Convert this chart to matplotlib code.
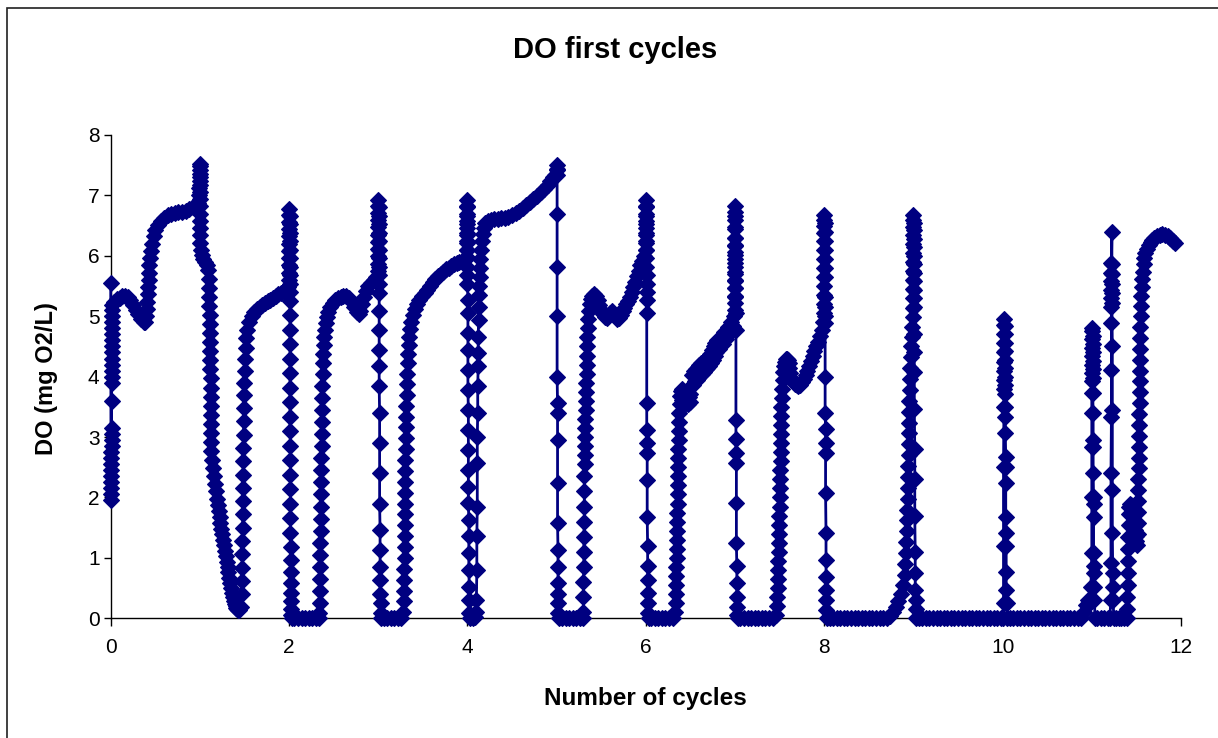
import numpy as np
import matplotlib.pyplot as plt
from matplotlib.patches import Rectangle

# DO probe readings as (cycle number, DO in mg O2/L), one list per cycle
cycle_1 = [
    (0.000, 5.55), (0.004, 1.95), (0.005, 2.05), (0.006, 2.15), (0.006, 2.25), (0.007, 2.35),
    (0.007, 2.45), (0.008, 2.55), (0.008, 2.65), (0.008, 2.75), (0.009, 2.85), (0.009, 2.95),
    (0.009, 3.05), (0.010, 3.15), (0.010, 3.60), (0.010, 3.90), (0.010, 4.00), (0.010, 4.10),
    (0.011, 4.20), (0.011, 4.30), (0.012, 4.40), (0.012, 4.50), (0.013, 4.60), (0.013, 4.70),
    (0.014, 4.80), (0.015, 4.90), (0.016, 5.00), (0.018, 5.10), (0.020, 5.18),
    (0.04, 5.24), (0.07, 5.28), (0.10, 5.31), (0.13, 5.33), (0.16, 5.34), (0.19, 5.32),
    (0.22, 5.27), (0.25, 5.19), (0.28, 5.11), (0.31, 5.03), (0.34, 4.96), (0.37, 4.90),
    (0.39, 4.90), (0.40, 5.00), (0.405, 5.12), (0.41, 5.24), (0.415, 5.36), (0.42, 5.48),
    (0.425, 5.60), (0.43, 5.72), (0.435, 5.84), (0.44, 5.96), (0.45, 6.08), (0.46, 6.20),
    (0.48, 6.32), (0.50, 6.42), (0.53, 6.51), (0.56, 6.58), (0.60, 6.63), (0.64, 6.67),
    (0.68, 6.70), (0.72, 6.71), (0.76, 6.72), (0.80, 6.73), (0.84, 6.75), (0.88, 6.78),
    (0.92, 6.81), (0.95, 6.84), (0.98, 6.88),
]

cycle_2 = [
    (0.99, 7.00), (0.99, 7.12), (1.00, 7.24), (1.00, 7.36), (1.00, 7.48), (1.00, 7.52),
    (1.00, 7.42), (1.00, 7.30), (1.00, 7.18), (1.00, 7.06), (1.00, 6.94), (1.00, 6.82),
    (1.00, 6.70), (1.00, 6.58), (1.00, 6.46), (1.00, 6.34), (1.00, 6.22), (1.01, 6.10),
    (1.02, 6.02), (1.04, 5.95), (1.06, 5.90), (1.08, 5.84), (1.09, 5.76),
    (1.10, 5.62), (1.10, 5.47), (1.105, 5.32), (1.105, 5.17), (1.11, 5.02), (1.11, 4.87),
    (1.11, 4.72), (1.11, 4.57), (1.115, 4.42), (1.115, 4.27), (1.115, 4.12), (1.12, 3.97),
    (1.12, 3.82), (1.12, 3.67), (1.12, 3.52), (1.12, 3.37), (1.125, 3.22), (1.125, 3.07),
    (1.13, 2.92), (1.13, 2.77), (1.14, 2.62), (1.15, 2.48), (1.16, 2.35), (1.17, 2.22),
    (1.18, 2.10), (1.19, 1.98), (1.20, 1.87), (1.21, 1.77), (1.22, 1.67), (1.23, 1.58),
    (1.24, 1.48), (1.25, 1.39), (1.26, 1.30), (1.27, 1.21), (1.28, 1.12), (1.29, 1.03),
    (1.30, 0.94), (1.31, 0.85), (1.32, 0.76), (1.33, 0.67), (1.34, 0.58), (1.35, 0.50),
    (1.36, 0.42), (1.37, 0.35), (1.38, 0.29), (1.39, 0.24), (1.40, 0.20), (1.41, 0.17),
    (1.42, 0.15), (1.43, 0.14), (1.44, 0.13),
    (1.46, 0.18), (1.47, 0.40), (1.47, 0.62), (1.475, 0.84), (1.475, 1.06), (1.475, 1.28),
    (1.48, 1.50), (1.48, 1.72), (1.48, 1.94), (1.48, 2.16), (1.485, 2.38), (1.485, 2.60),
    (1.485, 2.82), (1.49, 3.04), (1.49, 3.26), (1.49, 3.48), (1.495, 3.70), (1.50, 3.90),
    (1.505, 4.10), (1.51, 4.30), (1.515, 4.48), (1.52, 4.64), (1.53, 4.78), (1.55, 4.90),
    (1.58, 5.00), (1.61, 5.07), (1.64, 5.12), (1.67, 5.16), (1.70, 5.19), (1.73, 5.22),
    (1.76, 5.25), (1.79, 5.27), (1.82, 5.30), (1.85, 5.33), (1.88, 5.36), (1.91, 5.39),
    (1.94, 5.42), (1.97, 5.45), (1.99, 5.48),
]

cycle_3 = [
    (2.00, 5.60), (2.00, 5.72), (2.00, 5.84), (2.00, 5.96), (2.00, 6.08), (2.00, 6.20),
    (2.00, 6.32), (2.00, 6.44), (2.00, 6.56), (2.00, 6.68), (2.00, 6.78),
    (2.005, 6.66), (2.005, 6.52), (2.005, 6.38), (2.005, 6.24), (2.005, 6.10), (2.005, 5.96),
    (2.005, 5.82), (2.005, 5.68), (2.005, 5.54), (2.01, 5.40), (2.01, 5.26),
    (2.01, 5.02), (2.01, 4.78), (2.01, 4.54), (2.01, 4.30), (2.01, 4.06), (2.01, 3.82),
    (2.01, 3.58), (2.01, 3.34), (2.01, 3.10), (2.015, 2.86), (2.015, 2.62), (2.015, 2.38),
    (2.015, 2.14), (2.015, 1.90), (2.015, 1.66), (2.015, 1.42), (2.02, 1.18), (2.02, 0.96),
    (2.02, 0.76), (2.02, 0.58), (2.02, 0.42), (2.02, 0.28), (2.02, 0.16), (2.025, 0.06),
    (2.03, 0.00), (2.06, 0.00), (2.10, 0.00), (2.14, 0.00), (2.18, 0.00), (2.22, 0.00),
    (2.26, 0.00), (2.30, 0.00), (2.33, 0.00),
    (2.34, 0.08), (2.345, 0.25), (2.345, 0.45), (2.35, 0.65), (2.35, 0.85), (2.35, 1.05),
    (2.35, 1.25), (2.355, 1.45), (2.355, 1.65), (2.355, 1.85), (2.36, 2.05), (2.36, 2.25),
    (2.36, 2.45), (2.36, 2.65), (2.365, 2.85), (2.365, 3.05), (2.365, 3.25), (2.37, 3.45),
    (2.37, 3.65), (2.37, 3.85), (2.375, 4.05), (2.38, 4.22), (2.385, 4.38), (2.39, 4.52),
    (2.395, 4.65), (2.40, 4.77), (2.41, 4.88), (2.42, 4.98), (2.44, 5.07), (2.46, 5.15),
    (2.49, 5.22), (2.52, 5.27), (2.55, 5.30), (2.58, 5.32), (2.61, 5.33), (2.64, 5.33),
    (2.67, 5.30), (2.70, 5.24), (2.73, 5.15), (2.76, 5.07), (2.78, 5.04), (2.80, 5.08),
    (2.82, 5.20), (2.84, 5.32), (2.86, 5.42), (2.89, 5.50), (2.92, 5.55), (2.95, 5.60),
    (2.98, 5.65),
]

cycle_4 = [
    (3.00, 5.75), (3.00, 5.87), (3.00, 5.99), (3.00, 6.11), (3.00, 6.23), (3.00, 6.35),
    (3.00, 6.47), (3.00, 6.59), (3.00, 6.71), (3.00, 6.83), (3.00, 6.93),
    (3.005, 6.80), (3.005, 6.66), (3.005, 6.52), (3.005, 6.38), (3.005, 6.24), (3.005, 6.10),
    (3.005, 5.96), (3.005, 5.82), (3.005, 5.68), (3.01, 5.54), (3.01, 5.38), (3.01, 5.08),
    (3.01, 4.77), (3.01, 4.44), (3.01, 4.17), (3.01, 3.84), (3.015, 3.40), (3.015, 2.90),
    (3.015, 2.40), (3.015, 1.90), (3.02, 1.46), (3.02, 1.13), (3.02, 0.85), (3.02, 0.63),
    (3.02, 0.41), (3.025, 0.25), (3.025, 0.08), (3.03, 0.00),
    (3.06, 0.00), (3.10, 0.00), (3.14, 0.00), (3.18, 0.00), (3.22, 0.00), (3.26, 0.00),
    (3.28, 0.10), (3.285, 0.28), (3.29, 0.46), (3.29, 0.64), (3.29, 0.82), (3.295, 1.00),
    (3.295, 1.18), (3.295, 1.36), (3.30, 1.54), (3.30, 1.72), (3.30, 1.90), (3.30, 2.08),
    (3.305, 2.26), (3.305, 2.44), (3.305, 2.62), (3.31, 2.80), (3.31, 2.98), (3.31, 3.16),
    (3.315, 3.34), (3.315, 3.52), (3.32, 3.70), (3.32, 3.88), (3.325, 4.05), (3.33, 4.22),
    (3.335, 4.38), (3.34, 4.52), (3.35, 4.66), (3.36, 4.79), (3.37, 4.91), (3.39, 5.02),
    (3.41, 5.12), (3.43, 5.20), (3.46, 5.27), (3.49, 5.33), (3.52, 5.38), (3.55, 5.43),
    (3.58, 5.50), (3.61, 5.57), (3.64, 5.62), (3.67, 5.66), (3.70, 5.70), (3.73, 5.74),
    (3.76, 5.78), (3.79, 5.80), (3.82, 5.83), (3.85, 5.86), (3.88, 5.88), (3.91, 5.89),
    (3.94, 5.92), (3.97, 5.95), (3.99, 5.98),
]

cycle_5 = [
    (3.995, 6.10), (3.995, 6.22), (3.995, 6.34), (3.995, 6.46), (3.995, 6.58), (3.995, 6.70),
    (3.995, 6.82), (3.995, 6.93),
    (4.00, 6.80), (4.00, 6.66), (4.00, 6.52), (4.00, 6.38), (4.00, 6.24), (4.00, 6.10),
    (4.00, 5.96), (4.00, 5.82), (4.00, 5.68), (4.00, 5.54),
    (4.005, 5.27), (4.005, 5.05), (4.005, 4.72), (4.005, 4.44), (4.005, 4.11), (4.005, 3.78),
    (4.01, 3.45), (4.01, 3.12), (4.01, 2.79), (4.01, 2.46), (4.01, 2.18), (4.01, 1.91),
    (4.015, 1.63), (4.015, 1.36), (4.015, 1.08), (4.015, 0.80), (4.02, 0.52), (4.02, 0.30),
    (4.02, 0.08), (4.03, 0.00), (4.06, 0.00), (4.09, 0.02),
    (4.10, 0.10), (4.10, 0.30), (4.105, 0.80), (4.105, 1.36), (4.11, 1.85), (4.11, 2.57),
    (4.11, 3.00), (4.115, 3.40), (4.115, 3.84), (4.12, 4.17), (4.12, 4.39), (4.12, 4.66),
    (4.125, 4.94), (4.125, 5.16), (4.13, 5.35), (4.13, 5.50), (4.135, 5.65), (4.14, 5.80),
    (4.145, 5.95), (4.15, 6.10), (4.16, 6.24), (4.17, 6.36), (4.18, 6.46), (4.20, 6.54),
    (4.23, 6.58), (4.26, 6.60), (4.30, 6.61), (4.34, 6.61), (4.38, 6.62), (4.42, 6.63),
    (4.46, 6.65), (4.50, 6.68), (4.54, 6.71), (4.58, 6.75), (4.62, 6.79), (4.66, 6.84),
    (4.70, 6.89), (4.74, 6.94), (4.78, 6.99), (4.82, 7.05), (4.86, 7.11), (4.90, 7.18),
    (4.93, 7.24), (4.96, 7.30), (4.985, 7.34),
]

cycle_6 = [
    (5.00, 7.42), (5.00, 7.50), (5.00, 7.44), (5.005, 7.34), (5.005, 6.70), (5.005, 5.82),
    (5.005, 5.00), (5.005, 4.00), (5.01, 3.56), (5.01, 3.40), (5.01, 2.95), (5.01, 2.24),
    (5.01, 1.58), (5.015, 1.13), (5.015, 0.85), (5.015, 0.58), (5.02, 0.41), (5.02, 0.25),
    (5.02, 0.08), (5.03, 0.00),
    (5.06, 0.00), (5.10, 0.00), (5.14, 0.00), (5.18, 0.00), (5.22, 0.00), (5.26, 0.00),
    (5.29, 0.00),
    (5.30, 0.10), (5.30, 0.35), (5.30, 0.60), (5.305, 0.85), (5.305, 1.10), (5.305, 1.35),
    (5.31, 1.60), (5.31, 1.85), (5.31, 2.10), (5.31, 2.35), (5.315, 2.55), (5.315, 2.70),
    (5.315, 2.85), (5.32, 3.00), (5.32, 3.15), (5.32, 3.30), (5.325, 3.45), (5.325, 3.60),
    (5.33, 3.75), (5.33, 3.90), (5.335, 4.05), (5.335, 4.20), (5.34, 4.35), (5.34, 4.50),
    (5.345, 4.65), (5.35, 4.80), (5.355, 4.95), (5.36, 5.08), (5.37, 5.20), (5.38, 5.29),
    (5.40, 5.34), (5.42, 5.36), (5.44, 5.34), (5.46, 5.27), (5.48, 5.18), (5.50, 5.10),
    (5.52, 5.03), (5.54, 4.98), (5.56, 4.97), (5.58, 5.00), (5.60, 5.06), (5.62, 5.08),
    (5.64, 5.04), (5.66, 4.98), (5.68, 4.95), (5.70, 4.97), (5.72, 5.02), (5.74, 5.08),
    (5.76, 5.14), (5.78, 5.20), (5.80, 5.26), (5.82, 5.32), (5.84, 5.40), (5.86, 5.48),
    (5.88, 5.57), (5.90, 5.66), (5.92, 5.75), (5.94, 5.84), (5.96, 5.92), (5.98, 6.00),
]

cycle_7 = [
    (6.00, 6.10), (6.00, 6.22), (6.00, 6.34), (6.00, 6.46), (6.00, 6.58), (6.00, 6.70),
    (6.00, 6.82), (6.00, 6.93),
    (6.005, 6.80), (6.005, 6.66), (6.005, 6.52), (6.005, 6.38), (6.005, 6.24), (6.005, 6.10),
    (6.005, 5.96), (6.005, 5.82), (6.01, 5.68), (6.01, 5.54), (6.01, 5.40), (6.01, 5.27),
    (6.01, 5.05), (6.01, 3.56), (6.01, 3.12), (6.015, 2.90), (6.015, 2.73), (6.015, 2.29),
    (6.015, 1.68), (6.02, 1.19), (6.02, 0.86), (6.02, 0.64), (6.02, 0.42), (6.025, 0.26),
    (6.025, 0.09), (6.03, 0.00),
    (6.06, 0.00), (6.10, 0.00), (6.14, 0.00), (6.18, 0.00), (6.22, 0.00), (6.26, 0.00),
    (6.30, 0.00),
    (6.33, 0.10), (6.335, 0.25), (6.335, 0.40), (6.34, 0.55), (6.34, 0.70), (6.34, 0.85),
    (6.345, 1.00), (6.345, 1.15), (6.345, 1.30), (6.35, 1.45), (6.35, 1.60), (6.35, 1.75),
    (6.355, 1.90), (6.355, 2.05), (6.355, 2.20), (6.36, 2.35), (6.36, 2.50), (6.365, 2.65),
    (6.365, 2.80), (6.37, 2.95), (6.37, 3.10), (6.375, 3.25), (6.375, 3.40), (6.38, 3.55),
    (6.385, 3.68), (6.39, 3.76),
    (6.40, 3.80), (6.41, 3.62), (6.42, 3.76), (6.43, 3.58), (6.44, 3.72), (6.45, 3.56),
    (6.46, 3.68), (6.47, 3.55), (6.48, 3.66), (6.49, 3.58), (6.50, 3.72), (6.51, 3.85),
    (6.52, 4.02), (6.53, 3.86), (6.54, 4.10), (6.55, 3.92), (6.56, 4.12), (6.57, 3.95),
    (6.58, 4.16), (6.59, 3.98), (6.60, 4.20), (6.61, 4.02), (6.62, 4.22), (6.63, 4.05),
    (6.64, 4.24), (6.65, 4.08), (6.66, 4.28), (6.67, 4.12), (6.68, 4.30), (6.69, 4.15),
    (6.70, 4.33), (6.71, 4.18), (6.72, 4.38), (6.73, 4.22), (6.74, 4.44), (6.75, 4.28),
    (6.76, 4.50), (6.77, 4.34), (6.78, 4.55), (6.79, 4.40), (6.80, 4.60), (6.82, 4.46),
    (6.84, 4.66), (6.86, 4.54), (6.88, 4.74), (6.90, 4.62), (6.92, 4.82), (6.94, 4.72),
    (6.96, 4.90), (6.98, 4.84), (6.99, 5.00),
]

cycle_8 = [
    (7.00, 5.10), (7.00, 5.22), (7.00, 5.34), (7.00, 5.46), (7.00, 5.58), (7.00, 5.70),
    (7.00, 5.82), (7.00, 5.94), (7.00, 6.06), (7.00, 6.18), (7.00, 6.30), (7.00, 6.45),
    (7.00, 6.60), (7.00, 6.72), (7.00, 6.82),
    (7.005, 6.66), (7.005, 6.48), (7.005, 6.30), (7.005, 6.16), (7.005, 6.02), (7.005, 5.88),
    (7.005, 5.74), (7.005, 5.60), (7.005, 5.46), (7.005, 5.32), (7.01, 5.05), (7.01, 4.77),
    (7.01, 3.29), (7.01, 2.96), (7.01, 2.73), (7.015, 2.57), (7.015, 1.91), (7.015, 1.25),
    (7.02, 0.86), (7.02, 0.58), (7.02, 0.36), (7.025, 0.19), (7.025, 0.06), (7.03, 0.00),
    (7.06, 0.00), (7.10, 0.00), (7.14, 0.00), (7.18, 0.00), (7.22, 0.00), (7.26, 0.00),
    (7.30, 0.00), (7.34, 0.00), (7.38, 0.00), (7.42, 0.00),
    (7.46, 0.05), (7.47, 0.20), (7.475, 0.35), (7.48, 0.50), (7.48, 0.65), (7.485, 0.80),
    (7.485, 0.95), (7.49, 1.10), (7.49, 1.25), (7.49, 1.40), (7.495, 1.55), (7.495, 1.70),
    (7.50, 1.85), (7.50, 2.00), (7.50, 2.15), (7.505, 2.30), (7.505, 2.45), (7.51, 2.60),
    (7.51, 2.75), (7.51, 2.90), (7.515, 3.05), (7.515, 3.20), (7.52, 3.35), (7.52, 3.50),
    (7.525, 3.65), (7.53, 3.80), (7.535, 3.95), (7.54, 4.08), (7.55, 4.18), (7.56, 4.25),
    (7.57, 4.29), (7.58, 4.30), (7.59, 4.28), (7.60, 4.22), (7.61, 4.14), (7.62, 4.06),
    (7.63, 3.98), (7.65, 3.92), (7.67, 3.88), (7.69, 3.86), (7.71, 3.85), (7.73, 3.87),
    (7.75, 3.91), (7.77, 3.96), (7.79, 4.02), (7.81, 4.10), (7.83, 4.18), (7.85, 4.26),
    (7.87, 4.34), (7.89, 4.42), (7.91, 4.50), (7.93, 4.58), (7.95, 4.68), (7.97, 4.78),
    (7.99, 4.90),
]

cycle_9 = [
    (8.00, 5.05), (8.00, 5.20), (8.00, 5.35), (8.00, 5.50), (8.00, 5.65), (8.00, 5.80),
    (8.00, 5.95), (8.00, 6.10), (8.00, 6.25), (8.00, 6.38), (8.00, 6.50), (8.00, 6.60),
    (8.00, 6.68),
    (8.005, 6.55), (8.005, 6.40), (8.005, 6.25), (8.005, 6.10), (8.005, 5.95), (8.005, 5.80),
    (8.005, 5.65), (8.005, 5.32), (8.01, 5.15), (8.01, 5.00), (8.01, 4.88), (8.01, 4.00),
    (8.01, 3.40), (8.015, 3.13), (8.015, 2.90), (8.015, 2.73), (8.015, 2.07), (8.02, 1.41),
    (8.02, 0.97), (8.02, 0.69), (8.02, 0.47), (8.025, 0.30), (8.025, 0.14), (8.03, 0.00),
    (8.06, 0.00), (8.10, 0.00), (8.14, 0.00), (8.18, 0.00), (8.22, 0.00), (8.26, 0.00),
    (8.30, 0.00), (8.34, 0.00), (8.38, 0.00), (8.42, 0.00), (8.46, 0.00), (8.50, 0.00),
    (8.54, 0.00), (8.58, 0.00), (8.62, 0.00), (8.66, 0.00), (8.70, 0.00),
    (8.74, 0.04), (8.77, 0.10), (8.80, 0.18), (8.83, 0.28), (8.86, 0.40), (8.88, 0.55),
    (8.90, 0.72), (8.91, 0.90), (8.915, 1.08), (8.92, 1.26), (8.925, 1.44), (8.93, 1.62),
    (8.93, 1.80), (8.935, 1.98), (8.935, 2.16), (8.94, 2.34), (8.94, 2.52), (8.945, 2.70),
    (8.945, 2.88), (8.95, 3.06), (8.95, 3.24), (8.955, 3.42), (8.955, 3.60), (8.96, 3.78),
    (8.96, 3.96), (8.965, 4.14), (8.97, 4.32), (8.975, 4.50), (8.98, 4.66), (8.985, 4.82),
    (8.99, 4.98), (8.995, 5.14),
]

cycle_10 = [
    (9.00, 5.30), (9.00, 5.45), (9.00, 5.60), (9.00, 5.75), (9.00, 5.90), (9.00, 6.05),
    (9.00, 6.20), (9.00, 6.35), (9.00, 6.48), (9.00, 6.60), (9.00, 6.68),
    (9.005, 6.55), (9.005, 6.42), (9.005, 6.28), (9.005, 6.14), (9.005, 6.00), (9.005, 5.86),
    (9.005, 5.72), (9.005, 5.58), (9.01, 5.44), (9.01, 5.30), (9.01, 5.16), (9.01, 4.70),
    (9.01, 4.40), (9.01, 4.07), (9.01, 3.46), (9.015, 2.80), (9.015, 2.30), (9.015, 1.69),
    (9.02, 1.09), (9.02, 0.75), (9.02, 0.47), (9.025, 0.30), (9.025, 0.15), (9.03, 0.00),
    (9.06, 0.00), (9.10, 0.00), (9.14, 0.00), (9.18, 0.00), (9.22, 0.00), (9.26, 0.00),
    (9.30, 0.00), (9.34, 0.00), (9.38, 0.00), (9.42, 0.00), (9.46, 0.00), (9.50, 0.00),
    (9.54, 0.00), (9.58, 0.00), (9.62, 0.00), (9.66, 0.00), (9.70, 0.00), (9.74, 0.00),
    (9.78, 0.00), (9.82, 0.00), (9.86, 0.00), (9.90, 0.00), (9.94, 0.00), (9.98, 0.00),
]

cycle_11 = [
    (10.00, 0.00), (10.01, 0.25), (10.01, 1.19), (10.01, 2.51), (10.015, 3.50), (10.015, 3.80),
    (10.015, 3.95), (10.015, 4.10), (10.02, 4.25), (10.02, 4.40), (10.02, 4.55), (10.02, 4.70),
    (10.02, 4.85), (10.02, 4.96),
    (10.025, 4.84), (10.025, 4.70), (10.025, 4.56), (10.025, 4.42), (10.025, 4.28), (10.025, 4.14),
    (10.03, 4.00), (10.03, 3.86), (10.03, 3.72), (10.03, 3.50), (10.03, 3.34), (10.03, 3.06),
    (10.035, 2.67), (10.035, 2.51), (10.035, 2.24), (10.035, 1.68), (10.04, 1.41), (10.04, 1.19),
    (10.04, 0.76), (10.04, 0.47), (10.045, 0.25), (10.05, 0.00),
    (10.08, 0.00), (10.12, 0.00), (10.16, 0.00), (10.20, 0.00), (10.24, 0.00), (10.28, 0.00),
    (10.32, 0.00), (10.36, 0.00), (10.40, 0.00), (10.44, 0.00), (10.48, 0.00), (10.52, 0.00),
    (10.56, 0.00), (10.60, 0.00), (10.64, 0.00), (10.68, 0.00), (10.72, 0.00), (10.76, 0.00),
    (10.80, 0.00), (10.84, 0.00), (10.88, 0.00),
    (10.91, 0.10), (10.94, 0.22), (10.96, 0.30), (10.98, 0.25),
]

cycle_12 = [
    (10.99, 0.52), (11.00, 1.08), (11.00, 2.01), (11.00, 2.84), (11.00, 3.40), (11.00, 3.73),
    (11.00, 3.92), (11.00, 4.06), (11.00, 4.20), (11.005, 4.34), (11.005, 4.48), (11.005, 4.62),
    (11.005, 4.76), (11.005, 4.80),
    (11.01, 4.68), (11.01, 4.54), (11.01, 4.40), (11.01, 4.26), (11.01, 4.12), (11.01, 3.98),
    (11.01, 3.73), (11.015, 3.40), (11.015, 2.95), (11.015, 2.84), (11.015, 2.40), (11.02, 2.01),
    (11.02, 1.90), (11.02, 1.67), (11.02, 1.08), (11.025, 0.86), (11.025, 0.75), (11.025, 0.52),
    (11.03, 0.30), (11.035, 0.00),
    (11.06, 0.00), (11.10, 0.00), (11.14, 0.00), (11.18, 0.00), (11.20, 0.00),
    (11.215, 0.30), (11.215, 0.91), (11.215, 2.41), (11.22, 3.34), (11.22, 4.11), (11.22, 4.88),
    (11.22, 5.16), (11.22, 5.30), (11.22, 5.44), (11.22, 5.58), (11.22, 5.72), (11.22, 5.88),
    (11.225, 6.40),
    (11.225, 5.86), (11.225, 5.70), (11.225, 5.54), (11.225, 5.38), (11.225, 5.22), (11.23, 4.50),
    (11.23, 3.45), (11.23, 2.13), (11.23, 1.41), (11.235, 0.75), (11.235, 0.52), (11.24, 0.30),
    (11.245, 0.00),
    (11.27, 0.00), (11.30, 0.00), (11.33, 0.00), (11.36, 0.00), (11.39, 0.00),
    (11.40, 0.15), (11.40, 0.35), (11.405, 0.55), (11.405, 0.75), (11.41, 0.95), (11.41, 1.15),
    (11.41, 1.35), (11.415, 1.55), (11.415, 1.72), (11.42, 1.85), (11.43, 1.90), (11.44, 1.88),
    (11.45, 1.84), (11.46, 1.72), (11.47, 1.58), (11.48, 1.46), (11.49, 1.36), (11.50, 1.28),
    (11.51, 1.22),
    (11.515, 1.40), (11.515, 1.58), (11.52, 1.76), (11.52, 1.94), (11.52, 2.12), (11.52, 2.30),
    (11.525, 2.48), (11.525, 2.66), (11.525, 2.84), (11.53, 3.02), (11.53, 3.20), (11.53, 3.38),
    (11.535, 3.56), (11.535, 3.74), (11.535, 3.92), (11.54, 4.10), (11.54, 4.28), (11.54, 4.46),
    (11.545, 4.64), (11.545, 4.82), (11.55, 5.00), (11.55, 5.17), (11.555, 5.33), (11.56, 5.48),
    (11.565, 5.62), (11.57, 5.74), (11.58, 5.86), (11.59, 5.96), (11.60, 6.04), (11.62, 6.12),
    (11.64, 6.18), (11.66, 6.23), (11.68, 6.27), (11.70, 6.30), (11.73, 6.33), (11.76, 6.35),
    (11.79, 6.36), (11.82, 6.35), (11.85, 6.33), (11.88, 6.29), (11.91, 6.25), (11.93, 6.22),
]

x_ticks = [0, 2, 4, 6, 8, 10, 12]
y_ticks = [0, 1, 2, 3, 4, 5, 6, 7, 8]

NAVY = "#000080"
W, H = 1218, 738


def main():
    plt.rcParams["font.family"] = ["Liberation Sans", "DejaVu Sans"]

    fig = plt.figure(figsize=(W / 100, H / 100), dpi=100)
    fig.patch.set_facecolor("white")

    # plot area in pixel terms: x 110.7..1181, y 135..618.3
    ax = fig.add_axes([110.7 / W, 1 - 618.3 / H, (1181 - 110.7) / W, (618.3 - 135) / H])

    readings = np.array(cycle_1 + cycle_2 + cycle_3 + cycle_4 + cycle_5 + cycle_6
                        + cycle_7 + cycle_8 + cycle_9 + cycle_10 + cycle_11 + cycle_12)
    ax.plot(readings[:, 0], readings[:, 1], color=NAVY, lw=2.0,
            marker="D", ms=8.6, mfc=NAVY, mec=NAVY, mew=0.8,
            clip_on=False, zorder=3)

    ax.set_xlim(0, 12)
    ax.set_ylim(0, 8)
    ax.set_xticks(x_ticks)
    ax.set_yticks(y_ticks)
    ax.tick_params(direction="out", width=1, colors="black", labelsize=15)
    ax.tick_params(axis="x", length=6, pad=8)
    ax.tick_params(axis="y", length=5, pad=3)
    for side in ("top", "right"):
        ax.spines[side].set_visible(False)
    for side in ("left", "bottom"):
        ax.spines[side].set_linewidth(1)
        ax.spines[side].set_color("black")

    fig.text(615 / W, 1 - 50 / H, "DO first cycles", ha="center", va="center",
             fontsize=21, fontweight="bold")
    fig.text(645 / W, 1 - 698 / H, "Number of cycles", ha="center", va="center",
             fontsize=17.5, fontweight="bold")
    fig.text(47 / W, 1 - 379 / H, "DO (mg O2/L)", ha="center", va="center",
             rotation=90, fontsize=17, fontweight="bold")

    # chart frame, open to the right and bottom
    fig.add_artist(Rectangle((7 / W, -0.1), 1.2, 1.1 - 8.5 / H, transform=fig.transFigure,
                             fill=False, lw=1.2, ec="#202020"))

    fig.savefig("out.png", dpi=100)
    plt.close(fig)


if __name__ == "__main__":
    main()
